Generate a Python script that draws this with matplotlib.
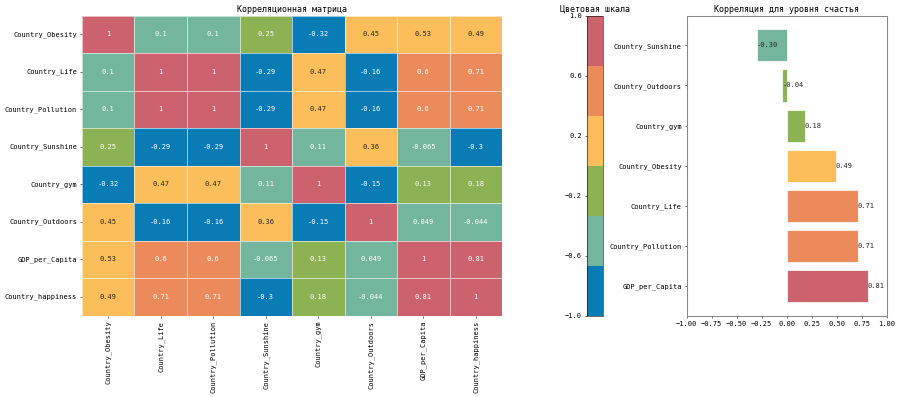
import numpy as np
import matplotlib
matplotlib.use("Agg")
import matplotlib.pyplot as plt
import seaborn as sns
from matplotlib.colors import ListedColormap, Normalize
from matplotlib.colorbar import ColorbarBase

plt.rcParams['font.family'] = ['DejaVu Sans Mono']
plt.rcParams['font.size'] = 10

labels = ["Country_Obesity", "Country_Life", "Country_Pollution", "Country_Sunshine",
          "Country_gym", "Country_Outdoors", "GDP_per_Capita", "Country_happiness"]

corr = np.array([
    [1, 0.1, 0.1, 0.25, -0.32, 0.45, 0.53, 0.49],
    [0.1, 1, 1, -0.29, 0.47, -0.16, 0.6, 0.71],
    [0.1, 1, 1, -0.29, 0.47, -0.16, 0.6, 0.71],
    [0.25, -0.29, -0.29, 1, 0.11, 0.36, -0.065, -0.3],
    [-0.32, 0.47, 0.47, 0.11, 1, -0.15, 0.13, 0.18],
    [0.45, -0.16, -0.16, 0.36, -0.15, 1, 0.049, -0.044],
    [0.53, 0.6, 0.6, -0.065, 0.13, 0.049, 1, 0.81],
    [0.49, 0.71, 0.71, -0.3, 0.18, -0.044, 0.81, 1],
])

# correlation with happiness, sorted ascending
happy_labels = ["Country_Sunshine", "Country_Outdoors", "Country_gym", "Country_Obesity",
                "Country_Life", "Country_Pollution", "GDP_per_Capita"]
happy_values = [-0.30, -0.044, 0.18, 0.49, 0.71, 0.71, 0.81]

palette = ["#0a7cb5", "#74b69d", "#8cb254", "#fbbe5a", "#eb8b5b", "#cc626e"]
cmap = ListedColormap(palette)
bar_colors = [palette[1], palette[2], palette[2], palette[3], palette[4], palette[4], palette[5]]

fig = plt.figure(figsize=(18, 7.94), dpi=50)

# heatmap
ax1 = fig.add_axes([0.0911, 0.2048, 0.4667, 0.7557])
sns.heatmap(corr, annot=True, cmap=cmap, cbar=False, linewidths=1, linecolor=(1, 1, 1, 0.6),
            xticklabels=labels, yticklabels=labels, ax=ax1, annot_kws={"fontsize": 10})
ax1.set_xticklabels(labels, rotation=90)
ax1.set_yticklabels(labels, rotation=0)
ax1.set_title("Корреляционная матрица", fontsize=12)

# colour scale
ax2 = fig.add_axes([0.6519, 0.2048, 0.0178, 0.7557])
cb = ColorbarBase(ax2, cmap=cmap, norm=Normalize(-1, 1), orientation="vertical")
cb.set_ticks(np.linspace(-1, 1, 6))
ax2.yaxis.set_ticks_position("left")
ax2.set_title("Цветовая шкала", fontsize=12)

# happiness bars
ax3 = fig.add_axes([0.763, 0.2048, 0.2222, 0.7557])
y = np.arange(len(happy_values))
ax3.barh(y, happy_values, height=0.8, color=bar_colors, edgecolor=(1, 1, 1, 0.7), linewidth=1.5)
for yi, v in zip(y, happy_values):
    ax3.text(v, yi, f"{v:.2f}", ha="left", va="center", fontsize=10, color="#262626")
ax3.set_yticks(y)
ax3.set_yticklabels(happy_labels)
ax3.invert_yaxis()
ax3.set_xlim(-1, 1)
ax3.set_xticks(np.arange(-1, 1.01, 0.25))
for s in ax3.spines.values():
    s.set_color("#888888")
    s.set_linewidth(1.5)
ax3.set_title("Корреляция для уровня счастья", fontsize=12)

fig.savefig("out.png", dpi=50)
